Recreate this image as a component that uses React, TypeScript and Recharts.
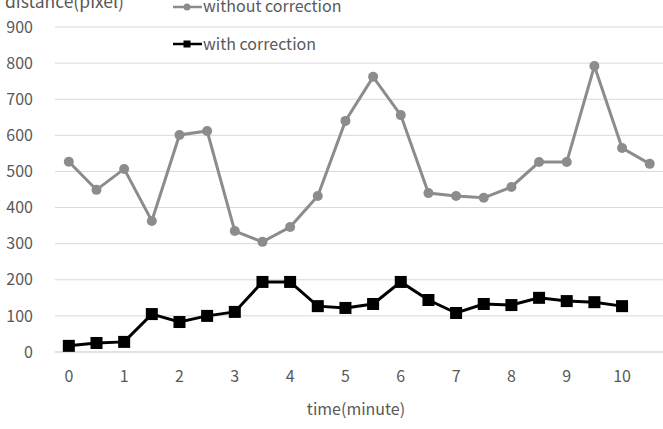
import { LineChart, Line, XAxis, YAxis, CartesianGrid } from "recharts";

const times = [0, 0.5, 1, 1.5, 2, 2.5, 3, 3.5, 4, 4.5, 5, 5.5, 6, 6.5, 7, 7.5, 8, 8.5, 9, 9.5, 10, 10.5];
const withoutCorrection = [527, 449, 507, 363, 601, 612, 335, 305, 346, 432, 640, 762, 656, 440, 432, 427, 457, 526, 526, 792, 565, 521];
const withCorrection = [17, 25, 28, 105, 83, 100, 111, 194, 194, 127, 122, 133, 194, 144, 108, 133, 130, 150, 141, 138, 127, null];
const xTicks = [0, 1, 2, 3, 4, 5, 6, 7, 8, 9, 10];
const yTicks = [0, 100, 200, 300, 400, 500, 600, 700, 800, 900];

const data = times.map((t, i) => ({
  t,
  without: withoutCorrection[i],
  with: withCorrection[i],
}));

const FONT = "'Noto Sans CJK KR', 'Noto Sans', sans-serif";
const TEXT = "#595959";
const GRAY = "#8c8c8c";

const SquareDot = (props: any) => {
  const { cx, cy } = props;
  if (cx == null || cy == null) return null;
  return <rect x={cx - 6} y={cy - 6} width={12} height={12} fill="#000" />;
};

// legend and axis titles drawn over the chart
const Overlay = () => (
  <svg width={663} height={429} style={{ position: "absolute", left: 0, top: 0, pointerEvents: "none" }}>
    <g fontFamily={FONT} fontSize={16} fill={TEXT}>
      <text x={5} y={8} fontSize={17.5}>distance(pixel)</text>
      <text x={356} y={415} textAnchor="middle">time(minute)</text>
      <text x={203} y={12}>without correction</text>
      <text x={203} y={50}>with correction</text>
    </g>
    <line x1={173} y1={7} x2={202} y2={7} stroke={GRAY} strokeWidth={2.5} />
    <circle cx={187} cy={7} r={3.5} fill={GRAY} />
    <line x1={173} y1={44} x2={202} y2={44} stroke="#000" strokeWidth={2.5} />
    <rect x={183.5} y={40.5} width={7} height={7} fill="#000" />
  </svg>
);

export default function App() {
  return (
    <div style={{ position: "absolute", left: 0, top: 0, width: 663, height: 429, background: "#fff", overflow: "hidden" }}>
      <LineChart width={663} height={429} data={data} margin={{ top: 27, right: 0, bottom: 47, left: 0 }}>
        <CartesianGrid vertical={false} stroke="#d9d9d9" strokeWidth={1} />
        <XAxis
          dataKey="t"
          type="number"
          domain={[-0.25, 10.74]}
          ticks={xTicks}
          axisLine={{ stroke: "#d9d9d9" }}
          tickLine={false}
          tickMargin={13}
          height={30}
          tick={{ fill: TEXT, fontSize: 16, fontFamily: FONT }}
        />
        <YAxis
          domain={[0, 900]}
          ticks={yTicks}
          width={55}
          axisLine={false}
          tickLine={false}
          tickMargin={16}
          tick={{ fill: TEXT, fontSize: 16, fontFamily: FONT }}
        />
        <Line
          dataKey="without"
          name="without correction"
          stroke={GRAY}
          strokeWidth={3}
          dot={{ r: 5, fill: GRAY, stroke: GRAY, strokeWidth: 0 }}
          isAnimationActive={false}
        />
        <Line
          dataKey="with"
          name="with correction"
          stroke="#000"
          strokeWidth={3}
          dot={<SquareDot />}
          isAnimationActive={false}
        />
      </LineChart>
      <Overlay />
    </div>
  );
}
